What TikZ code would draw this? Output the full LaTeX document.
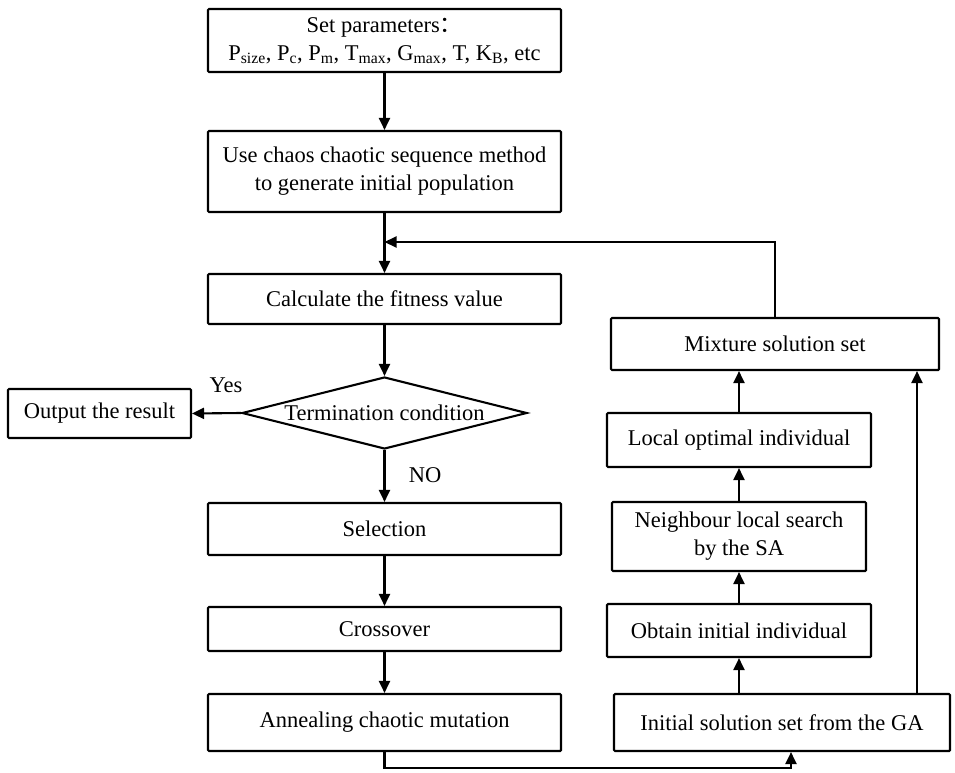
\documentclass[tikz,border=0pt]{standalone}
\usepackage{fontspec}
\setmainfont{Liberation Serif}
\newfontfamily\cjk{Noto Sans CJK SC}
\usetikzlibrary{shapes.geometric,arrows.meta,calc}
\begin{document}
\begin{tikzpicture}[x=1pt,y=-1pt,
  font=\fontsize{22.5}{28}\selectfont,
  box/.style={draw,line width=2.1pt,inner sep=0pt,align=center,rounded corners=1pt},
  decision/.style={draw,line width=2.1pt,shape=diamond,aspect=3.96,inner sep=0pt,minimum width=285pt,minimum height=72pt},
  conn/.style={line width=2.1pt,-{Triangle[length=12pt,width=11pt]}},
  lbl/.style={inner sep=0pt}]
\useasboundingbox (0,0) rectangle (955,773);

% left column
\node[box,minimum width=353pt,minimum height=63pt] (b1) at (384.5,40.5)
  {Set parameters{\cjk ：}\\P\textsubscript{size}, P\textsubscript{c}, P\textsubscript{m}, T\textsubscript{max}, G\textsubscript{max}, T, K\textsubscript{B}, etc};
\node[box,minimum width=353pt,minimum height=81pt] (b2) at (384.5,171.5)
  {Use chaos chaotic sequence method\\to generate initial population};
\node[box,minimum width=353pt,minimum height=50pt] (b3) at (384.5,299) {Calculate the fitness value};
\node[decision] (dec) at (384.5,413) {Termination condition};
\node[box,minimum width=183pt,minimum height=49pt] (out) at (99.5,413.5) {Output the result};
\node[box,minimum width=353pt,minimum height=52pt] (sel) at (384.5,529) {Selection};
\node[box,minimum width=353pt,minimum height=44pt] (cro) at (384.5,629) {Crossover};
\node[box,minimum width=353pt,minimum height=57pt] (ann) at (384.5,722.5) {Annealing chaotic mutation};

% right column
\node[box,minimum width=328pt,minimum height=52pt] (mix) at (775,344) {Mixture solution set};
\node[box,minimum width=264pt,minimum height=54pt] (loc) at (739,440) {Local optimal individual};
\node[box,minimum width=254pt,minimum height=69pt] (nei) at (739,536.5) {Neighbour local search\\by the SA};
\node[box,minimum width=264pt,minimum height=53pt] (obt) at (739,630.5) {Obtain initial individual};
\node[box,minimum width=336pt,minimum height=57pt] (ini) at (782,722.5) {Initial solution set from the GA};

% labels
\node[lbl] (yes) at (226,385) {Yes};
\node[lbl] (no) at (425,475) {NO};

% coordinates
\coordinate (join) at (384.5,242);
\coordinate (bot) at (384.5,768);

% connectors
\draw[conn] (b1) -- (b2);
\draw[conn] (b2) -- (b3);
\draw[conn] (mix.north) |- (join);
\draw[conn] (b3) -- (dec.north);
\draw[conn] (dec.west) -- (out.east);
\draw[conn] (dec.south) -- (sel.north);
\draw[conn] (sel) -- (cro);
\draw[conn] (cro) -- (ann);
\draw[conn] (ann.south) -- (bot) -| (ini.south -| 791,0);
\draw[conn] (ini.north -| obt.south) -- (obt.south);
\draw[conn] (obt) -- (nei);
\draw[conn] (nei) -- (loc);
\draw[conn] (loc.north) -- (loc.north |- mix.south);
\draw[conn] (ini.north -| 917,0) -- (mix.south -| 917,0);
\end{tikzpicture}
\end{document}
